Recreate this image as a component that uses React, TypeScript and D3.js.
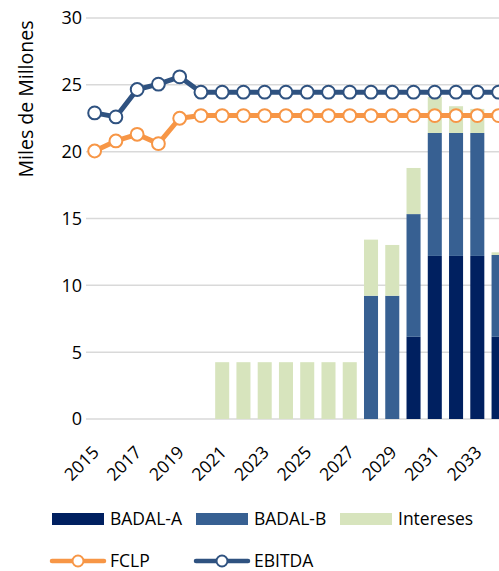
import * as d3 from "d3";
import React from "react";

const WIDTH = 499;
const HEIGHT = 571;

const MARGIN = { left: 84, top: 18, bottom: 152 };
const GRID_LEFT = 86;
const STEP = 21.26;

const YEARS = [
  "2015", "2016", "2017", "2018", "2019", "2020", "2021", "2022", "2023", "2024",
  "2025", "2026", "2027", "2028", "2029", "2030", "2031", "2032", "2033", "2034",
];

// stacked bars (miles de millones)
const BADAL_A = [0, 0, 0, 0, 0, 0, 0, 0, 0, 0, 0, 0, 0, 0, 0, 6.15, 12.2, 12.2, 12.2, 6.15];
const BADAL_B = [0, 0, 0, 0, 0, 0, 0, 0, 0, 0, 0, 0, 0, 9.22, 9.22, 9.18, 9.2, 9.2, 9.2, 6.12];
const INTERESES = [0, 0, 0, 0, 0, 0, 4.25, 4.25, 4.25, 4.25, 4.25, 4.25, 4.25, 4.2, 3.8, 3.45, 2.7, 2.0, 1.8, 0.2];

// lines
const FCLP = [20.05, 20.8, 21.3, 20.6, 22.5, 22.7, 22.7, 22.7, 22.7, 22.7, 22.7, 22.7, 22.7, 22.7, 22.7, 22.7, 22.7, 22.7, 22.7, 22.7];
const EBITDA = [22.9, 22.6, 24.65, 25.05, 25.6, 24.45, 24.45, 24.45, 24.45, 24.45, 24.45, 24.45, 24.45, 24.45, 24.45, 24.45, 24.45, 24.45, 24.45, 24.45];

const Y_TICKS = [0, 5, 10, 15, 20, 25, 30];

const COLORS = {
  a: "#002060",
  b: "#376092",
  i: "#D7E4BD",
  fclp: "#F79646",
  ebitda: "#2F5280",
  grid: "#D9D9D9",
};

const FONT = "'Open Sans', sans-serif";

export default function App() {
  const plotBottom = HEIGHT - MARGIN.bottom;

  const xScale = d3
    .scaleBand()
    .domain(YEARS)
    .range([MARGIN.left, MARGIN.left + STEP * YEARS.length])
    .paddingInner(0.34)
    .paddingOuter(0.17);

  const yScale = d3.scaleLinear().domain([0, 30]).range([plotBottom, MARGIN.top]);

  const rows = YEARS.map((year, i) => ({
    year,
    a: BADAL_A[i],
    b: BADAL_B[i],
    i: INTERESES[i],
  }));
  const stacks = d3.stack<any>().keys(["a", "b", "i"])(rows);

  const cx = (year: string) => (xScale(year) ?? 0) + xScale.bandwidth() / 2;

  const lineGen = d3
    .line<number>()
    .x((_, i) => cx(YEARS[i]))
    .y((d) => yScale(d));

  const lines = [
    { key: "fclp", values: FCLP, color: COLORS.fclp },
    { key: "ebitda", values: EBITDA, color: COLORS.ebitda },
  ];

  return (
    <svg
      width={WIDTH}
      height={HEIGHT}
      style={{ position: "absolute", left: 0, top: 0, background: "#fff" }}
      fontFamily={FONT}
    >
      {/* gridlines */}
      {Y_TICKS.map((t) => (
        <g key={t}>
          <line
            x1={GRID_LEFT}
            x2={WIDTH}
            y1={yScale(t)}
            y2={yScale(t)}
            stroke={COLORS.grid}
            strokeWidth={1.5}
          />
          <text x={82} y={yScale(t)} dy="0.36em" textAnchor="end" fontSize={18} fill="#000">
            {t}
          </text>
        </g>
      ))}

      {/* bars */}
      {stacks.map((s) => (
        <g key={s.key} fill={(COLORS as any)[s.key]}>
          {s.map((d, i) =>
            d[1] - d[0] > 0 ? (
              <rect
                key={i}
                x={xScale(YEARS[i])}
                width={xScale.bandwidth()}
                y={yScale(d[1])}
                height={yScale(d[0]) - yScale(d[1])}
              />
            ) : null
          )}
        </g>
      ))}

      {/* lines */}
      {lines.map((l) => (
        <g key={l.key}>
          <path d={lineGen(l.values) ?? ""} fill="none" stroke={l.color} strokeWidth={5} strokeLinejoin="round" />
          {l.values.map((v, i) => (
            <circle
              key={i}
              cx={cx(YEARS[i])}
              cy={yScale(v)}
              r={6.4}
              fill="#fff"
              stroke={l.color}
              strokeWidth={2}
            />
          ))}
        </g>
      ))}

      {/* x tick labels */}
      {YEARS.filter((_, i) => i % 2 === 0).map((y) => (
        <text
          key={y}
          transform={`translate(${cx(y) + 1},${plotBottom + 30}) rotate(-45)`}
          textAnchor="end"
          dy="0.36em"
          fontSize={17.5}
          fill="#000"
        >
          {y}
        </text>
      ))}

      {/* y axis title */}
      <text
        transform={`translate(33,99) rotate(-90)`}
        textAnchor="middle"
        fontSize={19.5}
        fill="#000"
      >
        Miles de Millones
      </text>

      {/* legend */}
      {[
        { label: "BADAL-A", color: COLORS.a, x: 52 },
        { label: "BADAL-B", color: COLORS.b, x: 196 },
        { label: "Intereses", color: COLORS.i, x: 340 },
      ].map((d) => (
        <g key={d.label}>
          <rect x={d.x} y={513} width={52} height={12} fill={d.color} />
          <text x={d.x + 58} y={519} dy="0.36em" fontSize={17.5} fill="#000">
            {d.label}
          </text>
        </g>
      ))}
      {[
        { label: "FCLP", color: COLORS.fclp, x: 50 },
        { label: "EBITDA", color: COLORS.ebitda, x: 194 },
      ].map((d) => (
        <g key={d.label}>
          <line x1={d.x + 2} x2={d.x + 54} y1={561} y2={561} stroke={d.color} strokeWidth={4.5} strokeLinecap="round" />
          <circle cx={d.x + 28} cy={561} r={5.5} fill="#fff" stroke={d.color} strokeWidth={2} />
          <text x={d.x + 60} y={561} dy="0.36em" fontSize={17.5} fill="#000">
            {d.label}
          </text>
        </g>
      ))}
    </svg>
  );
}
